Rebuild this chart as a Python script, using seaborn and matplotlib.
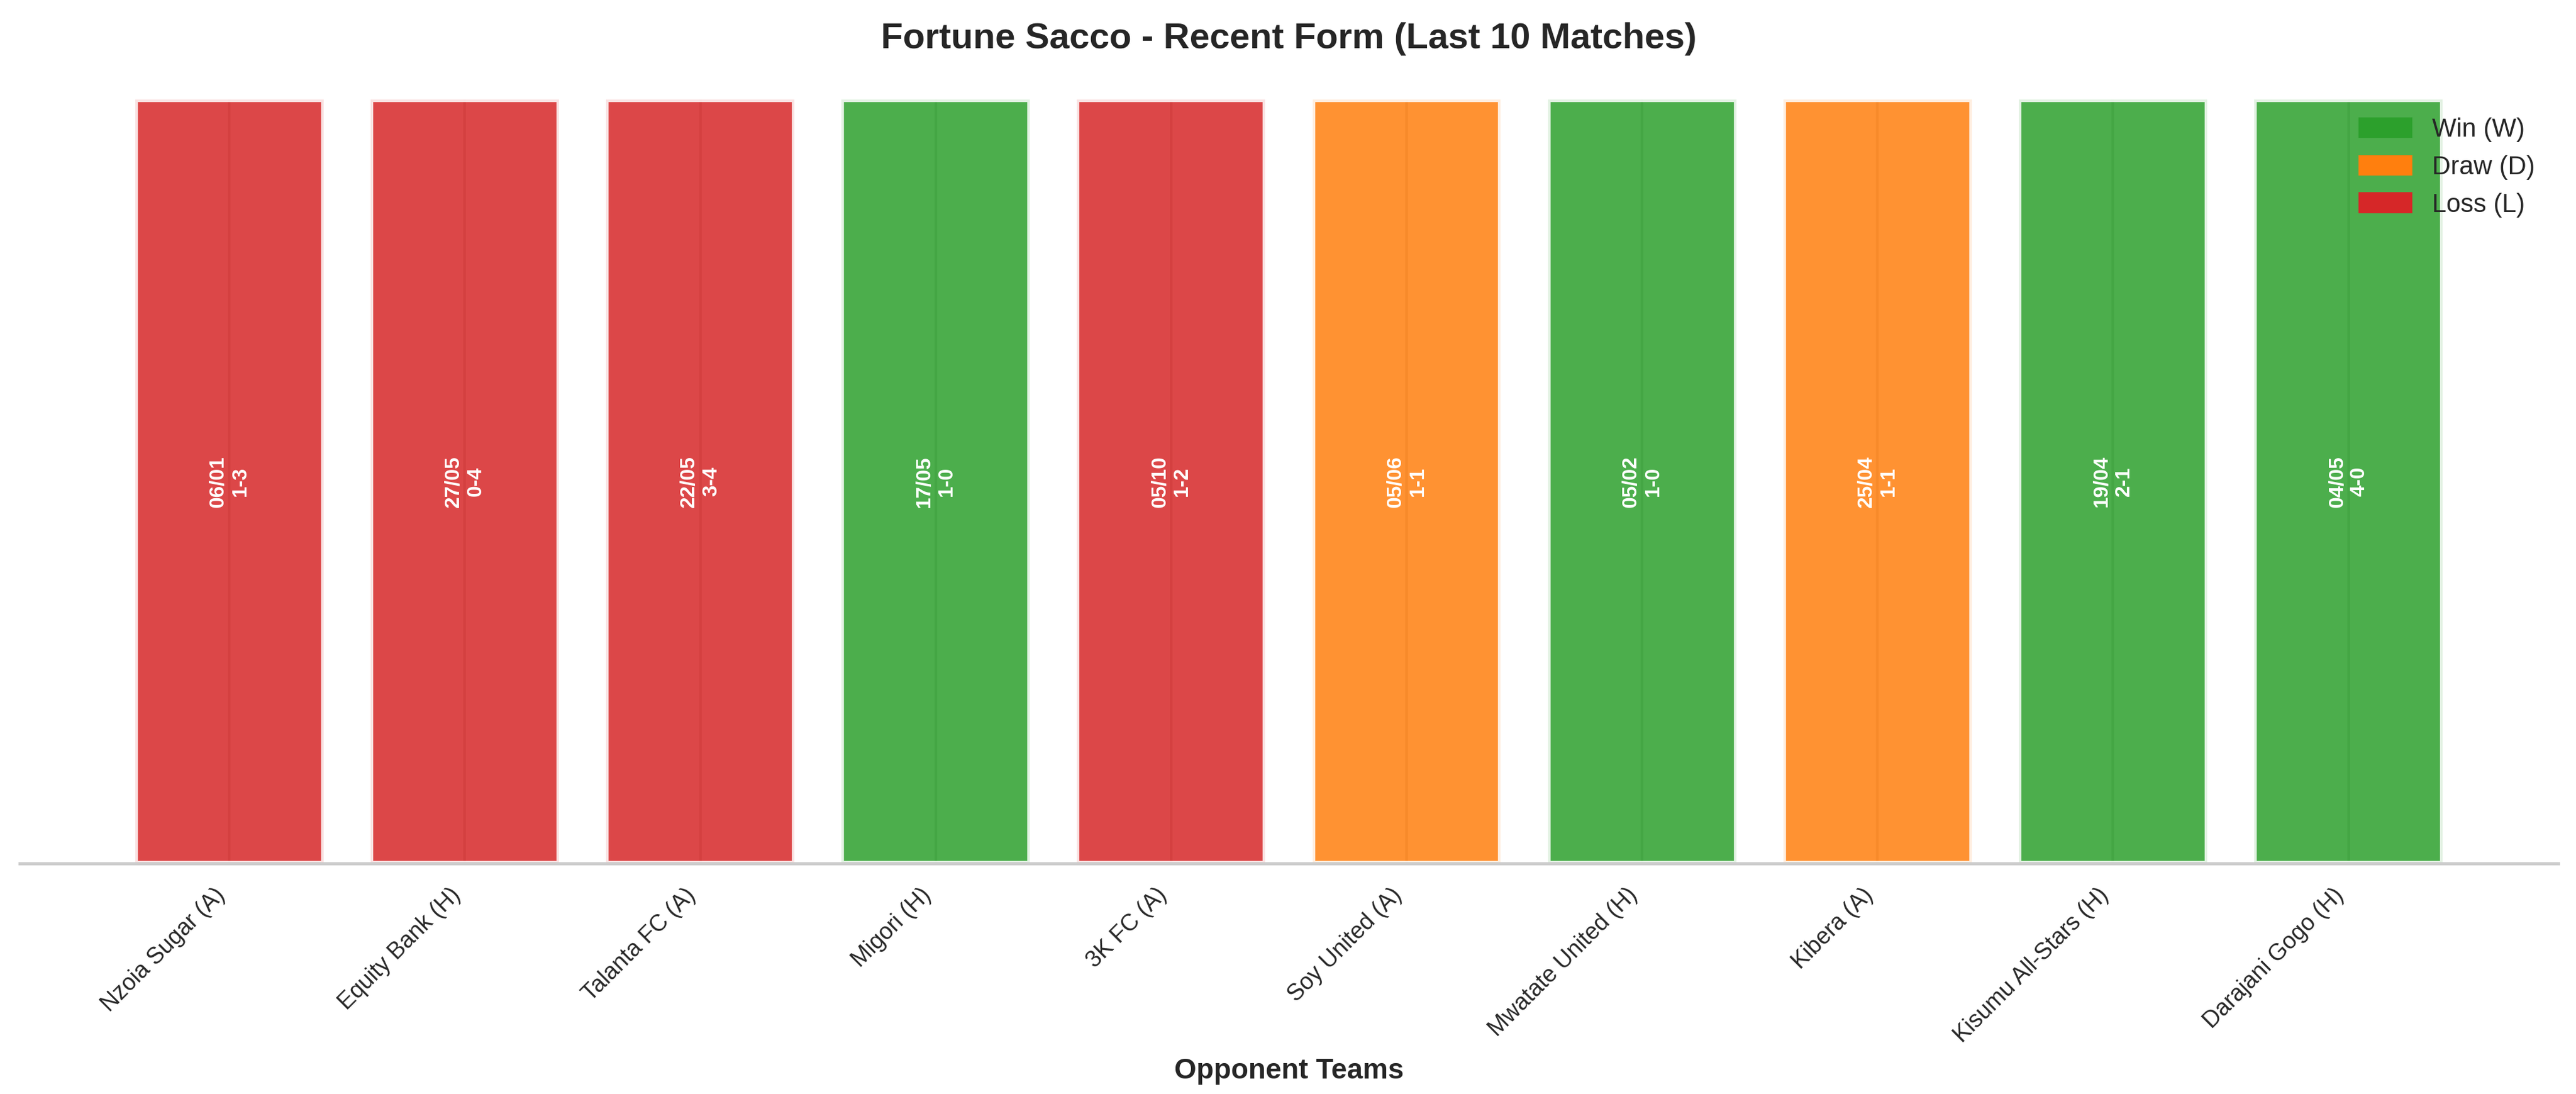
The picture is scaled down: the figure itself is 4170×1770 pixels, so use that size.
import matplotlib
matplotlib.use("Agg")
import matplotlib.pyplot as plt
from matplotlib.patches import Patch
import seaborn as sns

sns.set_theme(style="whitegrid")
plt.rcParams['font.family'] = ['Liberation Sans', 'DejaVu Sans']

# last 10 matches, oldest first
opponents = ['Nzoia Sugar (A)', 'Equity Bank (H)', 'Talanta FC (A)', 'Migori (H)', '3K FC (A)',
             'Soy United (A)', 'Mwatate United (H)', 'Kibera (A)', 'Kisumu All-Stars (H)',
             'Darajani Gogo (H)']
dates = ['06/01', '27/05', '22/05', '17/05', '05/10', '05/06', '05/02', '25/04', '19/04', '04/05']
scores = ['1-3', '0-4', '3-4', '1-0', '1-2', '1-1', '1-0', '1-1', '2-1', '4-0']
results = ['L', 'L', 'L', 'W', 'L', 'D', 'W', 'D', 'W', 'W']
bar_height = [1, 1, 1, 1, 1, 1, 1, 1, 1, 1]

result_colors = {'W': '#2ca02c', 'D': '#ff7f0e', 'L': '#d62728'}
result_names = {'W': 'Win (W)', 'D': 'Draw (D)', 'L': 'Loss (L)'}

fig, ax = plt.subplots(figsize=(13.9, 5.9))
fig.subplots_adjust(left=0.0077, right=0.993, bottom=0.211, top=0.909)

sns.barplot(x=opponents, y=bar_height, hue=results, palette=result_colors, dodge=False,
            width=0.8, saturation=1, alpha=0.85, edgecolor='white', linewidth=2,
            legend=False, ax=ax)

# date + score written inside each bar
for i, (d, s) in enumerate(zip(dates, scores)):
    ax.text(i, 0.5, f"{d}\n{s}", rotation=90, ha='center', va='center',
            color='white', fontweight='bold', fontsize=8)

n = len(opponents)
pad = 0.05 * (n - 0.2)
ax.set_xlim(-0.4 - pad, n - 1 + 0.4 + pad)
ax.set_ylim(0, 1)
ax.set_yticks([])
ax.grid(axis='y', visible=False)
ax.grid(axis='x', visible=True)
ax.set_axisbelow(True)
sns.despine(ax=ax, left=True)

ax.set_title('Fortune Sacco - Recent Form (Last 10 Matches)', fontsize=14, fontweight='bold', pad=20)
ax.set_xlabel('Opponent Teams', fontsize=11, fontweight='bold')
ax.set_ylabel('')
ax.tick_params(axis='x', pad=2)
plt.setp(ax.get_xticklabels(), rotation=45, ha='right', fontsize=9)

handles = [Patch(color=result_colors[k], label=result_names[k]) for k in ['W', 'D', 'L']]
ax.legend(handles=handles, loc='upper right', bbox_to_anchor=(1.0, 1.007), frameon=False, fontsize=10)

plt.savefig('out.png', dpi=300)
